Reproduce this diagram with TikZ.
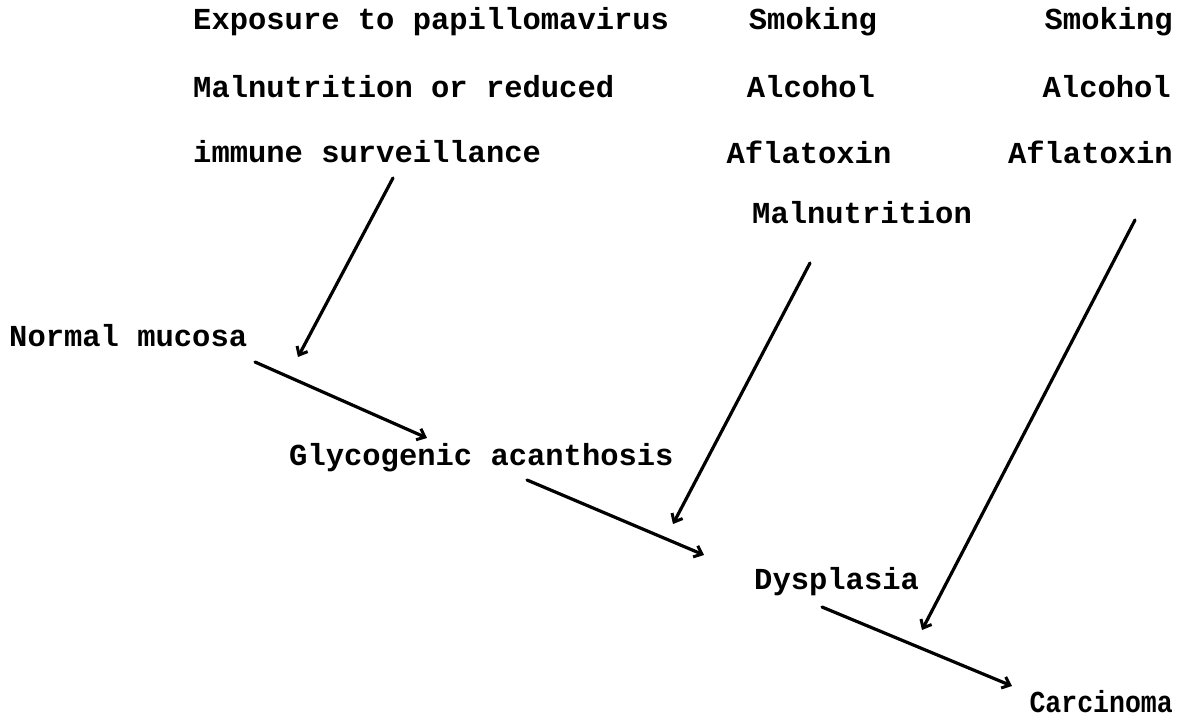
\documentclass[tikz,border=0pt]{standalone}
\usepackage{fontspec}
\setmainfont{Liberation Mono}
\usetikzlibrary{arrows.meta}
\tikzset{
  lbl/.style={inner sep=0pt, font=\bfseries\fontsize{30.5}{34}\selectfont},
  conn/.style={line width=3.2pt, line cap=round, -{Straight Barb[length=7pt,width=12pt,line width=3pt]}},
}
\begin{document}
\begin{tikzpicture}[x=1pt,y=-1pt]
\useasboundingbox (0,0) rectangle (1189,717);
% cause list 1
\node[lbl, anchor=west] (c1a) at (193,22) {Exposure to papillomavirus};
\node[lbl, anchor=west] (c1b) at (193,87) {Malnutrition or reduced};
\node[lbl, anchor=west] (c1c) at (193,152) {immune surveillance};
% cause list 2
\node[lbl] (c2a) at (813,22) {Smoking};
\node[lbl] (c2b) at (811,87) {Alcohol};
\node[lbl] (c2c) at (809,152) {Aflatoxin};
\node[lbl, anchor=west] (c2d) at (752,213) {Malnutrition};
% cause list 3
\node[lbl, anchor=east] (c3a) at (1173,22) {Smoking};
\node[lbl, anchor=east] (c3b) at (1171,87) {Alcohol};
\node[lbl, anchor=east] (c3c) at (1173,152) {Aflatoxin};
% stages
\node[lbl, anchor=west] (s1) at (9,336) {Normal mucosa};
\node[lbl, anchor=west] (s2) at (289,458) {Glycogenic acanthosis};
\node[lbl, anchor=west] (s3) at (754,582) {Dysplasia};
\node[lbl, anchor=east] (s4) at (1173,702) {\scalebox{0.87}[1]{Carcinoma}};
% connector end points
\coordinate (c1s) at (393,178);
\coordinate (c1e) at (298,357);
\coordinate (c2s) at (810,263);
\coordinate (c2e) at (673,524);
\coordinate (c3s) at (1135,220);
\coordinate (c3e) at (922,630);
\coordinate (s1s) at (255,362);
\coordinate (s1e) at (427,438);
\coordinate (s2s) at (527,480);
\coordinate (s2e) at (704,555);
\coordinate (s3s) at (822,607);
\coordinate (s3e) at (1012,686);
% connectors
\draw[conn] (c1s) -- (c1e);
\draw[conn] (c2s) -- (c2e);
\draw[conn] (c3s) -- (c3e);
\draw[conn] (s1s) -- (s1e);
\draw[conn] (s2s) -- (s2e);
\draw[conn] (s3s) -- (s3e);
\end{tikzpicture}
\end{document}
